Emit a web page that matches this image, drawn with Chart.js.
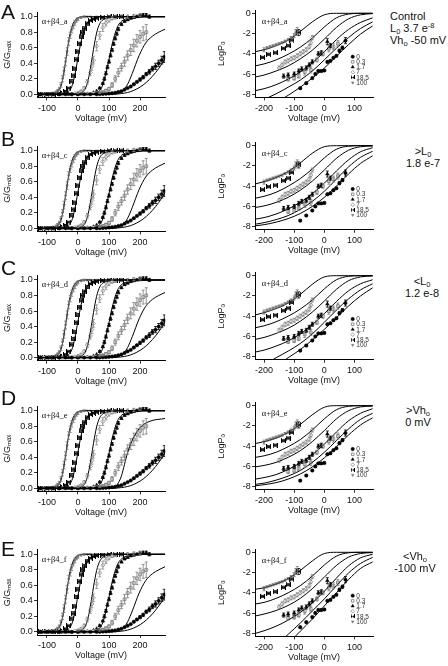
<!DOCTYPE html>
<html><head><meta charset="utf-8">
<script src="https://cdn.jsdelivr.net/npm/chart.js@4/dist/chart.umd.min.js"></script>
<style>
html,body{margin:0;padding:0;background:#fff;}
body{width:448px;height:666px;position:relative;overflow:hidden;font-family:"Liberation Sans",Arial,sans-serif;color:#111;}
canvas{position:absolute;}
.let{position:absolute;font-size:21px;line-height:21px;left:1px;}
.side{position:absolute;font-size:11px;line-height:11.7px;white-space:nowrap;}
.side sub{font-size:7.5px;vertical-align:-2px;line-height:0;}
.side sup{font-size:7.5px;vertical-align:4px;line-height:0;}
.ctr{text-align:center;width:80px;}
</style></head><body>
<div id="root"></div>
<script>
// ---------- categories (Ca2+ concentrations, µM) ----------
const concs = ['0','0.3','1.7','7','18.5','100'];

// ---------- G/Gmax vs voltage data ----------
const gV_0   = [-120,-100,-80,-60,-40,-20,0,20,40,60,70,80,90,100,110,120,130,140,150,160,170,180,190,200,210,220,230,240,250,260,270,278];
const gG_0   = [0,0,0,0,0,0,0,0,0,0,0.002,0.004,0.006,0.01,0.015,0.02,0.03,0.04,0.06,0.08,0.1,0.13,0.16,0.19,0.22,0.26,0.29,0.33,0.36,0.4,0.44,0.48];
const gE_0   = [0,0,0,0,0,0,0,0,0,0,0,0,0,0,0,0,0,0,0,0,0,0.01,0.01,0.02,0.02,0.02,0.03,0.03,0.04,0.04,0.05,0.07];

const gV_03  = [-110,-80,-50,-20,10,30,50,60,70,80,90,100,110,120,130,140,150,160,170,180,190,200,210,220];
const gG_03  = [0,0,0,0,0.003,0.005,0.01,0.015,0.02,0.03,0.045,0.07,0.12,0.2,0.28,0.35,0.42,0.5,0.57,0.63,0.69,0.74,0.78,0.8];
const gE_03  = [0,0,0,0,0,0,0,0,0.01,0.01,0.02,0.02,0.03,0.04,0.05,0.05,0.06,0.06,0.07,0.08,0.08,0.08,0.09,0.1];

const gV_17  = [-120,-90,-60,-30,0,30,50,60,70,80,85,90,95,100,105,110,115,120,125,130,140,150,160,170,180,190,200,210,220,230];
const gG_17  = [0,0,0,0,0,0.005,0.02,0.04,0.08,0.14,0.2,0.27,0.35,0.42,0.5,0.57,0.65,0.72,0.78,0.84,0.9,0.94,0.96,0.98,0.99,1.0,1.01,1.02,1.02,1.0];
const gE_17  = [0,0,0,0,0,0,0,0,0.01,0.01,0.02,0.02,0.02,0.02,0.02,0.02,0.02,0.02,0.02,0.02,0.01,0.01,0.01,0.01,0.01,0.01,0.02,0.02,0.02,0.02];

const gV_7   = [-120,-90,-60,-30,-10,0,10,20,30,40,45,50,60,70,80,90,100,110,120,140,160,180,200];
const gG_7   = [0,0,0,0.005,0.01,0.02,0.04,0.08,0.16,0.28,0.36,0.44,0.62,0.76,0.86,0.92,0.96,0.98,0.99,1.0,1.0,1.01,1.02];
const gE_7   = [0,0,0,0,0,0.01,0.01,0.02,0.03,0.04,0.05,0.05,0.06,0.05,0.05,0.04,0.03,0.02,0.02,0.02,0.02,0.02,0.02];

const gV_185 = [-120,-100,-80,-60,-50,-40,-30,-20,-15,-10,-5,0,5,10,15,20,30,40,50,60,80,100,120,140];
const gG_185 = [0,0,0,0.01,0.02,0.04,0.08,0.17,0.24,0.33,0.45,0.55,0.65,0.74,0.8,0.85,0.91,0.95,0.97,0.98,0.99,1.0,1.0,1.0];
const gE_185 = [0,0,0,0,0,0.01,0.01,0.02,0.02,0.02,0.02,0.02,0.02,0.02,0.02,0.02,0.02,0.01,0.01,0.01,0.01,0.01,0.01,0.01];

const gV_100 = [-130,-120,-110,-100,-90,-80,-70,-65,-60,-55,-50,-45,-40,-35,-30,-25,-20,-15,-10,-5,0,10,20,30,40,60,80,100];
const gG_100 = [0,0,0.005,0.01,0.01,0.02,0.03,0.05,0.07,0.12,0.2,0.3,0.42,0.55,0.68,0.76,0.83,0.88,0.92,0.95,0.97,0.99,1.0,1.0,1.0,1.0,1.0,1.0];
const gE_100 = [0,0,0,0,0,0,0.01,0.01,0.02,0.03,0.04,0.05,0.05,0.05,0.05,0.04,0.04,0.03,0.03,0.02,0.02,0.01,0.01,0,0,0,0,0];

// ---------- G/Gmax model curves ----------
const fV_100 = [-132,-90,-70,-60,-50,-40,-30,-20,-10,0,20,281];
const fG_100 = [0,0.003,0.02,0.06,0.18,0.42,0.68,0.86,0.95,0.985,1,1];
const fV_185 = [-132,-50,-30,-20,-10,0,10,20,30,40,60,80,281];
const fG_185 = [0,0.005,0.04,0.1,0.25,0.47,0.68,0.83,0.92,0.96,0.99,1,1];
const fV_7   = [-132,0,10,20,30,40,50,60,70,80,100,130,281];
const fG_7   = [0,0.005,0.015,0.05,0.14,0.33,0.58,0.79,0.91,0.96,0.99,1,1];
const fV_17  = [-132,40,60,70,80,90,100,110,120,130,140,160,180,281];
const fG_17  = [0,0.003,0.02,0.05,0.12,0.27,0.45,0.64,0.79,0.89,0.94,0.98,1,1];
const fV_03  = [-132,100,120,140,150,160,175,197,218,240,260,281];
const fG_03  = [0,0,0.01,0.035,0.07,0.13,0.27,0.5,0.66,0.75,0.8,0.84];
const fV_03D = [-132,110,120,130,140,150,160,175,197,229,281];
const fG_03D = [0,0,0.02,0.07,0.16,0.31,0.46,0.62,0.77,0.86,0.9];
const fV_0   = [-132,110,130,150,170,190,210,230,250,270,281];
const fG_0   = [0,0,0.005,0.015,0.035,0.07,0.12,0.19,0.28,0.39,0.46];

// ---------- log Po vs voltage data ----------
const rV_0   = [-80,-60,-40,-30,-20,-10,0,10,20,30,40,50,60,70];
const rL_0   = [-7.4,-6.9,-6.4,-6.0,-5.7,-5.7,-5.65,-4.8,-4.7,-4.4,-4.2,-3.7,-3.4,-2.7];
const rE_0   = [0.1,0.1,0.1,0.1,0.1,0.1,0.1,0.1,0.1,0.1,0.1,0.15,0.15,0.3];
const rV_03  = [-120,-100,-85,-65,-45,-25,-5,15,30,45];
const rL_03  = [-6.5,-6.4,-6.2,-5.8,-5.6,-4.6,-4.0,-3.5,-3.3,-3.0];
const rE_03  = [0.2,0.2,0.2,0.3,0.3,0.2,0.2,0.3,0.3,0.3];
const rV_17  = [-135,-120,-100,-85,-75,-60,-50,-40,-20,-10,10,20];
const rL_17  = [-6.2,-6.1,-6.0,-5.7,-5.5,-5.4,-5.1,-4.8,-4.0,-3.9,-2.8,-3.2];
const rE_17  = [0.2,0.2,0.2,0.2,0.2,0.2,0.2,0.2,0.2,0.2,0.3,0.2];
const rV_7   = [-150,-140,-130,-120,-110,-100,-90,-80,-70,-60,-50,-45,-40];
const rL_7   = [-5.4,-5.1,-4.8,-4.7,-4.5,-4.4,-4.2,-4.0,-3.8,-3.6,-3.3,-2.9,-2.4];
const rE_7   = [0.2,0.2,0.2,0.2,0.2,0.2,0.2,0.2,0.2,0.2,0.2,0.2,0.2];
const rV_185 = [-205,-185,-163,-136,-120,-108,-85];
const rL_185 = [-4.35,-4.05,-3.9,-3.46,-3.2,-2.64,-1.9];
const rE_185 = [0.1,0.1,0.1,0.1,0.1,0.1,0.3];
const rV_100 = [-200,-190,-180,-170,-160,-150,-140,-130,-120,-110,-100,-95,-90];
const rL_100 = [-3.6,-3.4,-3.3,-3.2,-3.1,-3.0,-2.9,-2.75,-2.6,-2.4,-2.2,-1.9,-1.7];
const rE_100 = [0.2,0.1,0.1,0.1,0.1,0.1,0.1,0.1,0.1,0.1,0.2,0.3,0.3];

// ---------- log Po model curves, one row per Ca concentration (100,18.5,7,1.7,0.3,0) ----------
const fitRX = [-240,-200,-160,-120,-80,-40,0,40,80,120,160];
const fitR_A = [
 [-3.85,-3.6,-3.2,-2.65,-1.8,-0.85,-0.15,0,0,0,0],
 [-5.25,-5.0,-4.6,-4.05,-3.35,-2.45,-1.35,-0.45,-0.08,0,0],
 [-6.35,-6.1,-5.7,-5.2,-4.5,-3.65,-2.55,-1.4,-0.55,-0.15,-0.03],
 [-7.7,-7.45,-7.05,-6.5,-5.8,-4.9,-3.8,-2.6,-1.6,-0.9,-0.45],
 [-9.0,-8.5,-7.95,-7.3,-6.6,-5.7,-4.6,-3.45,-2.4,-1.5,-0.85],
 [-10,-9.4,-8.8,-8.1,-7.3,-6.4,-5.4,-4.25,-3.1,-2.05,-1.25]];
const fitR_B = [
 [-3.85,-3.55,-3.15,-2.55,-1.7,-0.75,-0.1,0,0,0,0],
 [-5.25,-5.0,-4.6,-4.0,-3.25,-2.3,-1.2,-0.35,-0.05,0,0],
 [-6.15,-5.95,-5.6,-5.1,-4.4,-3.5,-2.4,-1.25,-0.45,-0.1,-0.02],
 [-7.3,-7.1,-6.75,-6.25,-5.6,-4.75,-3.7,-2.5,-1.4,-0.6,-0.2],
 [-7.8,-7.6,-7.3,-6.9,-6.3,-5.5,-4.5,-3.3,-2.1,-1.15,-0.55],
 [-7.95,-7.8,-7.55,-7.2,-6.7,-6.0,-5.1,-4.0,-2.8,-1.75,-1.0]];
const fitR_C = [
 [-3.95,-3.65,-3.25,-2.7,-1.85,-0.85,-0.12,0,0,0,0],
 [-5.2,-4.95,-4.55,-4.0,-3.3,-2.4,-1.3,-0.4,-0.06,0,0],
 [-6.35,-6.1,-5.7,-5.2,-4.5,-3.6,-2.5,-1.35,-0.5,-0.12,-0.02],
 [-7.6,-7.35,-6.95,-6.45,-5.75,-4.85,-3.75,-2.55,-1.5,-0.8,-0.4],
 [-9.4,-8.8,-8.1,-7.45,-6.7,-5.75,-4.6,-3.4,-2.3,-1.4,-0.8],
 [-10.2,-9.6,-8.9,-8.1,-7.3,-6.35,-5.3,-4.15,-3.0,-2.0,-1.2]];
const fitR_D = [
 [-3.8,-3.55,-3.2,-2.65,-1.85,-0.9,-0.15,0,0,0,0],
 [-5.15,-4.95,-4.6,-4.05,-3.35,-2.4,-1.3,-0.4,-0.06,0,0],
 [-6.1,-5.9,-5.6,-5.1,-4.45,-3.55,-2.45,-1.3,-0.5,-0.12,-0.03],
 [-7.3,-7.1,-6.8,-6.3,-5.65,-4.85,-3.8,-2.6,-1.5,-0.75,-0.3],
 [-7.8,-7.65,-7.35,-6.95,-6.4,-5.6,-4.6,-3.45,-2.3,-1.35,-0.75],
 [-7.95,-7.8,-7.6,-7.25,-6.75,-6.05,-5.15,-4.05,-2.9,-1.9,-1.2]];
const fitR_E = [
 [-3.7,-3.5,-3.15,-2.6,-1.8,-0.85,-0.12,0,0,0,0],
 [-5.15,-4.95,-4.55,-4.0,-3.3,-2.35,-1.25,-0.38,-0.05,0,0],
 [-6.35,-6.1,-5.75,-5.25,-4.55,-3.6,-2.45,-1.3,-0.48,-0.12,-0.03],
 [-8.1,-7.75,-7.3,-6.7,-5.95,-5.0,-3.85,-2.55,-1.35,-0.55,-0.2],
 [-11,-10.2,-9.2,-8.1,-7.0,-5.8,-4.6,-3.3,-2.05,-1.1,-0.5],
 [-12,-11.1,-10.1,-9.0,-7.8,-6.6,-5.3,-4.0,-2.7,-1.6,-0.95]];

// ---------- tick labels ----------
const leftXTicks = [-100,0,100,200];
const leftYTicks = [0,0.2,0.4,0.6,0.8,1.0];
const rightXTicks = [-200,-100,0,100];
const rightYTicks = [-8,-6,-4,-2,0];

// ---------- panel texts ----------
const panelLetters = ['A','B','C','D','E'];
const constructs = ['α+β4_a','α+β4_c','α+β4_d','α+β4_e','α+β4_f'];
const sideTexts = [
  ['Control','L<sub>0</sub> 3.7 e<sup>-8</sup>','Vh<sub>o</sub> -50 mV'],
  ['&gt;L<sub>0</sub>','1.8 e-7'],
  ['&lt;L<sub>0</sub>','1.2 e-8'],
  ['&gt;Vh<sub>o</sub>','0 mV'],
  ['&lt;Vh<sub>o</sub>','-100 mV']];

// ---------- layout (pixels) ----------
const rowLeftOne = [16.7,150.7,280,410.7,554.3];
const rowRightZero = [13.3,145.7,275.7,405.7,552.3];
const letterTop = [0.5,128.3,257.3,387.3,538.3];
const sidePos = [[390,11.2,'l'],[423,145.9,'c'],[422,275.8,'c'],[418,404.8,'c'],[415,551.4,'c']];

// ---------- marker styles ----------
function bowtie(){
  const c=document.createElement('canvas'); c.width=5; c.height=5;
  const x=c.getContext('2d'); x.fillStyle='#000'; x.beginPath();
  x.moveTo(0,0); x.lineTo(2.5,2.5); x.lineTo(0,5); x.closePath();
  x.moveTo(5,0); x.lineTo(2.5,2.5); x.lineTo(5,5); x.closePath(); x.fill();
  x.fillRect(0,0,1,5); x.fillRect(4,0,1,5);
  return c;
}
const BOW = bowtie();
const styles = {
  '0':   {pointStyle:'circle', pointRadius:1.7, pointBackgroundColor:'#000', pointBorderColor:'#000', pointBorderWidth:0.5, err:'#000'},
  '0.3': {pointStyle:'rect', pointRadius:2.0, pointBackgroundColor:'#fff', pointBorderColor:'#7a7a7a', pointBorderWidth:0.8, err:'#7a7a7a'},
  '1.7': {pointStyle:'triangle', pointRadius:2.1, pointBackgroundColor:'#000', pointBorderColor:'#000', pointBorderWidth:0.5, err:'#000'},
  '7':   {pointStyle:'rectRot', pointRadius:2.0, pointBackgroundColor:'#fff', pointBorderColor:'#888', pointBorderWidth:0.8, err:'#888'},
  '18.5':{pointStyle:BOW, pointRadius:2.5, pointBackgroundColor:'#000', pointBorderColor:'#000', pointBorderWidth:0, err:'#000'},
  '100': {pointStyle:'triangle', pointRotation:180, pointRadius:1.5, pointBackgroundColor:'#777', pointBorderColor:'#777', pointBorderWidth:0.5, err:'#777'}
};

function pts(xs,ys){ return xs.map((v,i)=>({x:v,y:ys[i]})); }
function scatterDS(key,xs,ys,es){
  const s=styles[key];
  return {type:'scatter', label:key, data:pts(xs,ys), errorBars:es, errorColor:s.err,
    pointStyle:s.pointStyle, pointRadius:s.pointRadius, pointRotation:s.pointRotation||0,
    pointBackgroundColor:s.pointBackgroundColor, pointBorderColor:s.pointBorderColor,
    pointBorderWidth:s.pointBorderWidth, showLine:false, order:2};
}
function curveDS(xs,ys){
  return {type:'line', data:pts(xs,ys), borderColor:'#000', borderWidth:1, pointRadius:0,
    cubicInterpolationMode:'monotone', fill:false, order:1, isCurve:true};
}

// ---------- plugins ----------
const errPlugin = {
  id:'errbars',
  afterDatasetsDraw(chart){
    const ctx=chart.ctx, ys=chart.scales.y, a=chart.chartArea;
    ctx.save();
    ctx.beginPath(); ctx.rect(a.left,a.top-2,a.right-a.left,a.bottom-a.top+4); ctx.clip();
    chart.data.datasets.forEach((ds,di)=>{
      if(!ds.errorBars) return;
      const meta=chart.getDatasetMeta(di);
      ctx.strokeStyle=ds.errorColor; ctx.lineWidth=0.8;
      meta.data.forEach((pt,i)=>{
        const e=ds.errorBars[i]; if(!e) return;
        const v=ds.data[i].y;
        const y1=ys.getPixelForValue(v+e), y2=ys.getPixelForValue(v-e), x=pt.x;
        ctx.beginPath();
        ctx.moveTo(x,y1); ctx.lineTo(x,y2);
        ctx.moveTo(x-1.5,y1); ctx.lineTo(x+1.5,y1);
        ctx.moveTo(x-1.5,y2); ctx.lineTo(x+1.5,y2);
        ctx.stroke();
      });
    });
    ctx.restore();
  }
};
const infoPlugin = {
  id:'info',
  afterDraw(chart,args,o){
    const ctx=chart.ctx, a=chart.chartArea;
    ctx.save();
    ctx.fillStyle='#111'; ctx.textBaseline='middle'; ctx.textAlign='left';
    ctx.font='8.5px "Liberation Serif","Times New Roman",serif';
    ctx.fillText(o.label, a.left+o.dx, a.top+o.dy);
    if(o.legend){
      const sets=chart.data.datasets.filter(d=>!d.isCurve);
      ctx.font='6.5px "Liberation Sans",Arial,sans-serif';
      sets.forEach((d,i)=>{
        const x=a.left+97.7, y=a.top+46.4+i*5.2;
        ctx.fillStyle=d.pointBackgroundColor; ctx.strokeStyle=d.pointBorderColor; ctx.lineWidth=d.pointBorderWidth||0.5;
        const opt={pointStyle:d.pointStyle, radius:Math.min(d.pointRadius,1.8), rotation:d.pointRotation||0, borderWidth:d.pointBorderWidth};
        if(d.pointStyle instanceof HTMLCanvasElement){ ctx.drawImage(d.pointStyle,x-2,y-2,4,4); }
        else if(Chart.helpers && Chart.helpers.drawPoint){ Chart.helpers.drawPoint(ctx,opt,x,y); }
        ctx.fillStyle='#333';
        ctx.fillText(d.label, x+3.6, y+0.3);
      });
    }
    ctx.restore();
  }
};

const FONT = {family:'"Liberation Sans", Arial, sans-serif', size:9};
function axisCommon(ticksArr, fmt){
  return {
    afterBuildTicks: s=>{ s.ticks = ticksArr.map(v=>({value:v})); },
    ticks:{font:FONT, color:'#111', padding:1.3, maxRotation:0, autoSkip:false, callback: fmt},
    grid:{display:true, drawOnChartArea:false, drawTicks:true, tickLength:3, color:'#000', lineWidth:0.8},
    border:{display:true, color:'#000', width:1}
  };
}

function makeChart(cfg){
  const cv=document.createElement('canvas');
  cv.width=cfg.w; cv.height=cfg.h;
  cv.style.left=cfg.left+'px'; cv.style.top=cfg.top+'px';
  cv.style.width=cfg.w+'px'; cv.style.height=cfg.h+'px';
  document.getElementById('root').appendChild(cv);
  const xs=Object.assign(axisCommon(cfg.xt, v=>String(v)), {
    type:'linear', position:'bottom', min:cfg.xmin, max:cfg.xmax,
    title:{display:true, text:'Voltage (mV)', font:FONT, color:'#111', padding:{top:0,bottom:1.6}},
    afterFit: s=>{ s.height=cfg.xh; }
  });
  xs.ticks.padding=2.5;
  const ys=Object.assign(axisCommon(cfg.yt, cfg.yfmt), {
    type:'linear', position:'left', min:cfg.ymin, max:cfg.ymax,
    title:{display:true, text:cfg.ytitle, font:FONT, color:'#111', padding:{top:cfg.ytp,bottom:0}},
    afterFit: s=>{ s.width=cfg.yw; }
  });
  new Chart(cv,{
    data:{datasets:cfg.datasets},
    options:{
      responsive:false, animation:false, devicePixelRatio:1, events:[],
      layout:{padding:{left:0,right:cfg.pr,top:cfg.pt,bottom:cfg.pb}},
      scales:{x:xs, y:ys},
      plugins:{legend:{display:false}, tooltip:{enabled:false},
        info:{label:cfg.label, dx:cfg.ldx, dy:cfg.ldy, legend:cfg.legend}}
    },
    plugins:[errPlugin, infoPlugin]
  });
}

const leftFitsV = [fV_100,fV_185,fV_7,fV_17,fV_03,fV_0];
const leftFitsG = [fG_100,fG_185,fG_7,fG_17,fG_03,fG_0];
const rightFits = [fitR_A,fitR_B,fitR_C,fitR_D,fitR_E];

function leftDatasets(row){
  const ds=[];
  leftFitsV.forEach((v,i)=>{
    if(row===3 && i===4) ds.push(curveDS(fV_03D,fG_03D));
    else ds.push(curveDS(v,leftFitsG[i]));
  });
  ds.push(scatterDS('0',gV_0,gG_0,gE_0));
  ds.push(scatterDS('0.3',gV_03,gG_03,gE_03));
  ds.push(scatterDS('1.7',gV_17,gG_17,gE_17));
  ds.push(scatterDS('7',gV_7,gG_7,gE_7));
  ds.push(scatterDS('18.5',gV_185,gG_185,gE_185));
  ds.push(scatterDS('100',gV_100,gG_100,gE_100));
  return ds;
}
function rightDatasets(row){
  const ds=rightFits[row].map(c=>curveDS(fitRX,c));
  ds.push(scatterDS('0',rV_0,rL_0,rE_0));
  ds.push(scatterDS('0.3',rV_03,rL_03,rE_03));
  ds.push(scatterDS('1.7',rV_17,rL_17,rE_17));
  ds.push(scatterDS('7',rV_7,rL_7,rE_7));
  ds.push(scatterDS('18.5',rV_185,rL_185,rE_185));
  ds.push(scatterDS('100',rV_100,rL_100,rE_100));
  return ds;
}

for(let r=0;r<5;r++){
  const LYMIN=-0.04, LYMAX=1.06, LPPU=77.6, XH=28;
  const aTop=rowLeftOne[r]-(LYMAX-1)*LPPU, aH=(LYMAX-LYMIN)*LPPU;
  const cTop=Math.floor(aTop-8), pt=aTop-cTop, cH=Math.ceil(pt+aH+XH), pb=cH-XH-pt-aH;
  makeChart({left:0, top:cTop, w:170, h:cH, pt:pt, pb:pb, pr:4, xh:XH, yw:37,
    xmin:-132, xmax:281, ymin:LYMIN, ymax:LYMAX, xt:leftXTicks, yt:leftYTicks,
    yfmt:v=>v.toFixed(1), ytitle:'G/Gₘₐₓ', ytp:2.6,
    label:constructs[r], ldx:4.7, ldy:9.7, legend:false, datasets:leftDatasets(r)});
  const RYMIN=-8.3, RYMAX=0.3, RPPU=10.125;
  const bTop=rowRightZero[r]-RYMAX*RPPU, bH=(RYMAX-RYMIN)*RPPU;
  const dTop=Math.floor(bTop-8), pt2=bTop-dTop, dH=Math.ceil(pt2+bH+XH), pb2=dH-XH-pt2-bH;
  makeChart({left:213, top:dTop, w:165, h:dH, pt:pt2, pb:pb2, pr:4.7, xh:XH, yw:42,
    xmin:-230, xmax:162, ymin:RYMIN, ymax:RYMAX, xt:rightXTicks, yt:rightYTicks,
    yfmt:v=>String(v), ytitle:'LogPₒ', ytp:3,
    label:constructs[r], ldx:6.7, ldy:11.4, legend:true, datasets:rightDatasets(r)});
  const L=document.createElement('div'); L.className='let'; L.style.top=letterTop[r]+'px'; L.textContent=panelLetters[r];
  document.body.appendChild(L);
  const S=document.createElement('div');
  const sp=sidePos[r];
  S.className='side'+(sp[2]==='c'?' ctr':'');
  S.style.left=(sp[2]==='c'?sp[0]-40:sp[0])+'px'; S.style.top=sp[1]+'px';
  S.innerHTML=sideTexts[r].join('<br>');
  document.body.appendChild(S);
}
</script>
</body></html>
